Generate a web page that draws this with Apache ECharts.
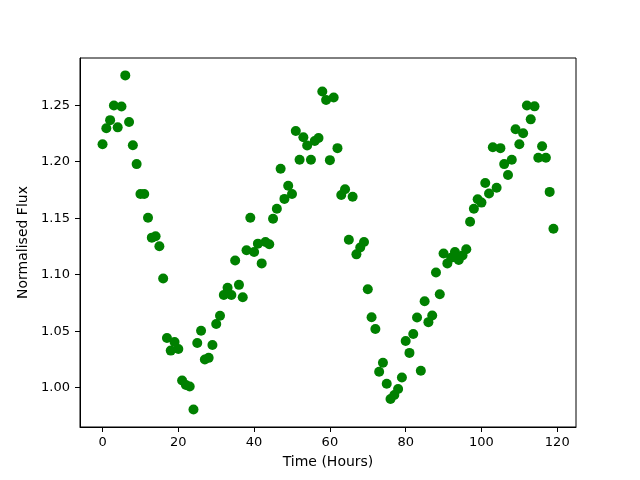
<!DOCTYPE html>
<html>
<head>
<meta charset="utf-8">
<title>Normalised Flux</title>
<script src="https://cdn.jsdelivr.net/npm/echarts@6/dist/echarts.min.js"></script>
<style>
  html, body { margin: 0; padding: 0; background: #fff; }
  #chart { width: 640px; height: 480px; }
</style>
</head>
<body>
<div id="chart"></div>
<script>
// hours 0..119, one reading per hour
const hours = Array.from({ length: 120 }, (_, i) => i)

const flux = [
  1.2155, 1.2296, 1.2368, 1.2498, 1.2304, 1.2489, 1.2764, 1.2351, 1.2146, 1.1979,
  1.1715, 1.1715, 1.1504, 1.1328, 1.1340, 1.1252, 1.0967, 1.0440, 1.0328, 1.0405,
  1.0343, 1.0064, 1.0023, 1.0011, 0.9807, 1.0396, 1.0504, 1.0249, 1.0264, 1.0378,
  1.0563, 1.0636, 1.0820, 1.0885, 1.0820, 1.1126, 1.0910, 1.0800, 1.1216, 1.1504,
  1.1201, 1.1275, 1.1100, 1.1290, 1.1270, 1.1495, 1.1583, 1.1937, 1.1671, 1.1788,
  1.1715, 1.2272, 1.2017, 1.2216, 1.2143, 1.2017, 1.2184, 1.2210, 1.2621, 1.2547,
  1.2014, 1.2568, 1.2120, 1.1706, 1.1756, 1.1310, 1.1690, 1.1180, 1.1240, 1.1290,
  1.0871, 1.0624, 1.0519, 1.0141, 1.0220, 1.0035, 0.9900, 0.9935, 0.9988, 1.0090,
  1.0413, 1.0308, 1.0475, 1.0621, 1.0150, 1.0765, 1.0580, 1.0639, 1.1020, 1.0827,
  1.1187, 1.1100, 1.1150, 1.1200, 1.1130, 1.1170, 1.1225, 1.1469, 1.1583, 1.1668,
  1.1638, 1.1812, 1.1718, 1.2128, 1.1770, 1.2120, 1.1979, 1.1882, 1.2017, 1.2287,
  1.2155, 1.2252, 1.2498, 1.2375, 1.2490, 1.2035, 1.2137, 1.2035, 1.1733, 1.1407
]

const xTicks = [0, 20, 40, 60, 80, 100, 120]
const yTicks = [1.00, 1.05, 1.10, 1.15, 1.20, 1.25]

const FONT = 'DejaVu Sans'
const tickText = { color: '#000', fontFamily: FONT, fontSize: 13 }
const nameText = { color: '#000', fontFamily: FONT, fontSize: 14 }

const chart = echarts.init(document.getElementById('chart'))

chart.setOption({
  backgroundColor: '#fff',
  animation: false,
  grid: {
    left: 80,
    right: 64,
    top: 58,
    bottom: 53,
    show: true,
    borderColor: '#000',
    borderWidth: 1
  },
  xAxis: {
    type: 'value',
    min: -5.95,
    max: 124.95,
    name: 'Time (Hours)',
    nameLocation: 'middle',
    nameGap: 28,
    nameTextStyle: nameText,
    axisLine: { onZero: false, lineStyle: { color: '#000' } },
    axisTick: { show: true, length: 5, inside: false, customValues: xTicks, lineStyle: { color: '#000' } },
    axisLabel: { ...tickText, margin: 9, customValues: xTicks },
    splitLine: { show: false }
  },
  yAxis: {
    type: 'value',
    min: 0.9652,
    max: 1.2918,
    name: 'Normalised Flux',
    nameLocation: 'middle',
    nameGap: 39,
    nameTextStyle: nameText,
    axisLine: { show: true, onZero: false, lineStyle: { color: '#000' } },
    axisTick: { show: true, length: 5, customValues: yTicks, lineStyle: { color: '#000' } },
    axisLabel: { ...tickText, margin: 10, customValues: yTicks, formatter: v => v.toFixed(2) },
    splitLine: { show: false }
  },
  series: [
    {
      type: 'scatter',
      symbol: 'circle',
      symbolSize: 10,
      itemStyle: { color: '#008000', opacity: 1 },
      data: hours.map((h, i) => [h, flux[i]])
    }
  ]
})
</script>
</body>
</html>
